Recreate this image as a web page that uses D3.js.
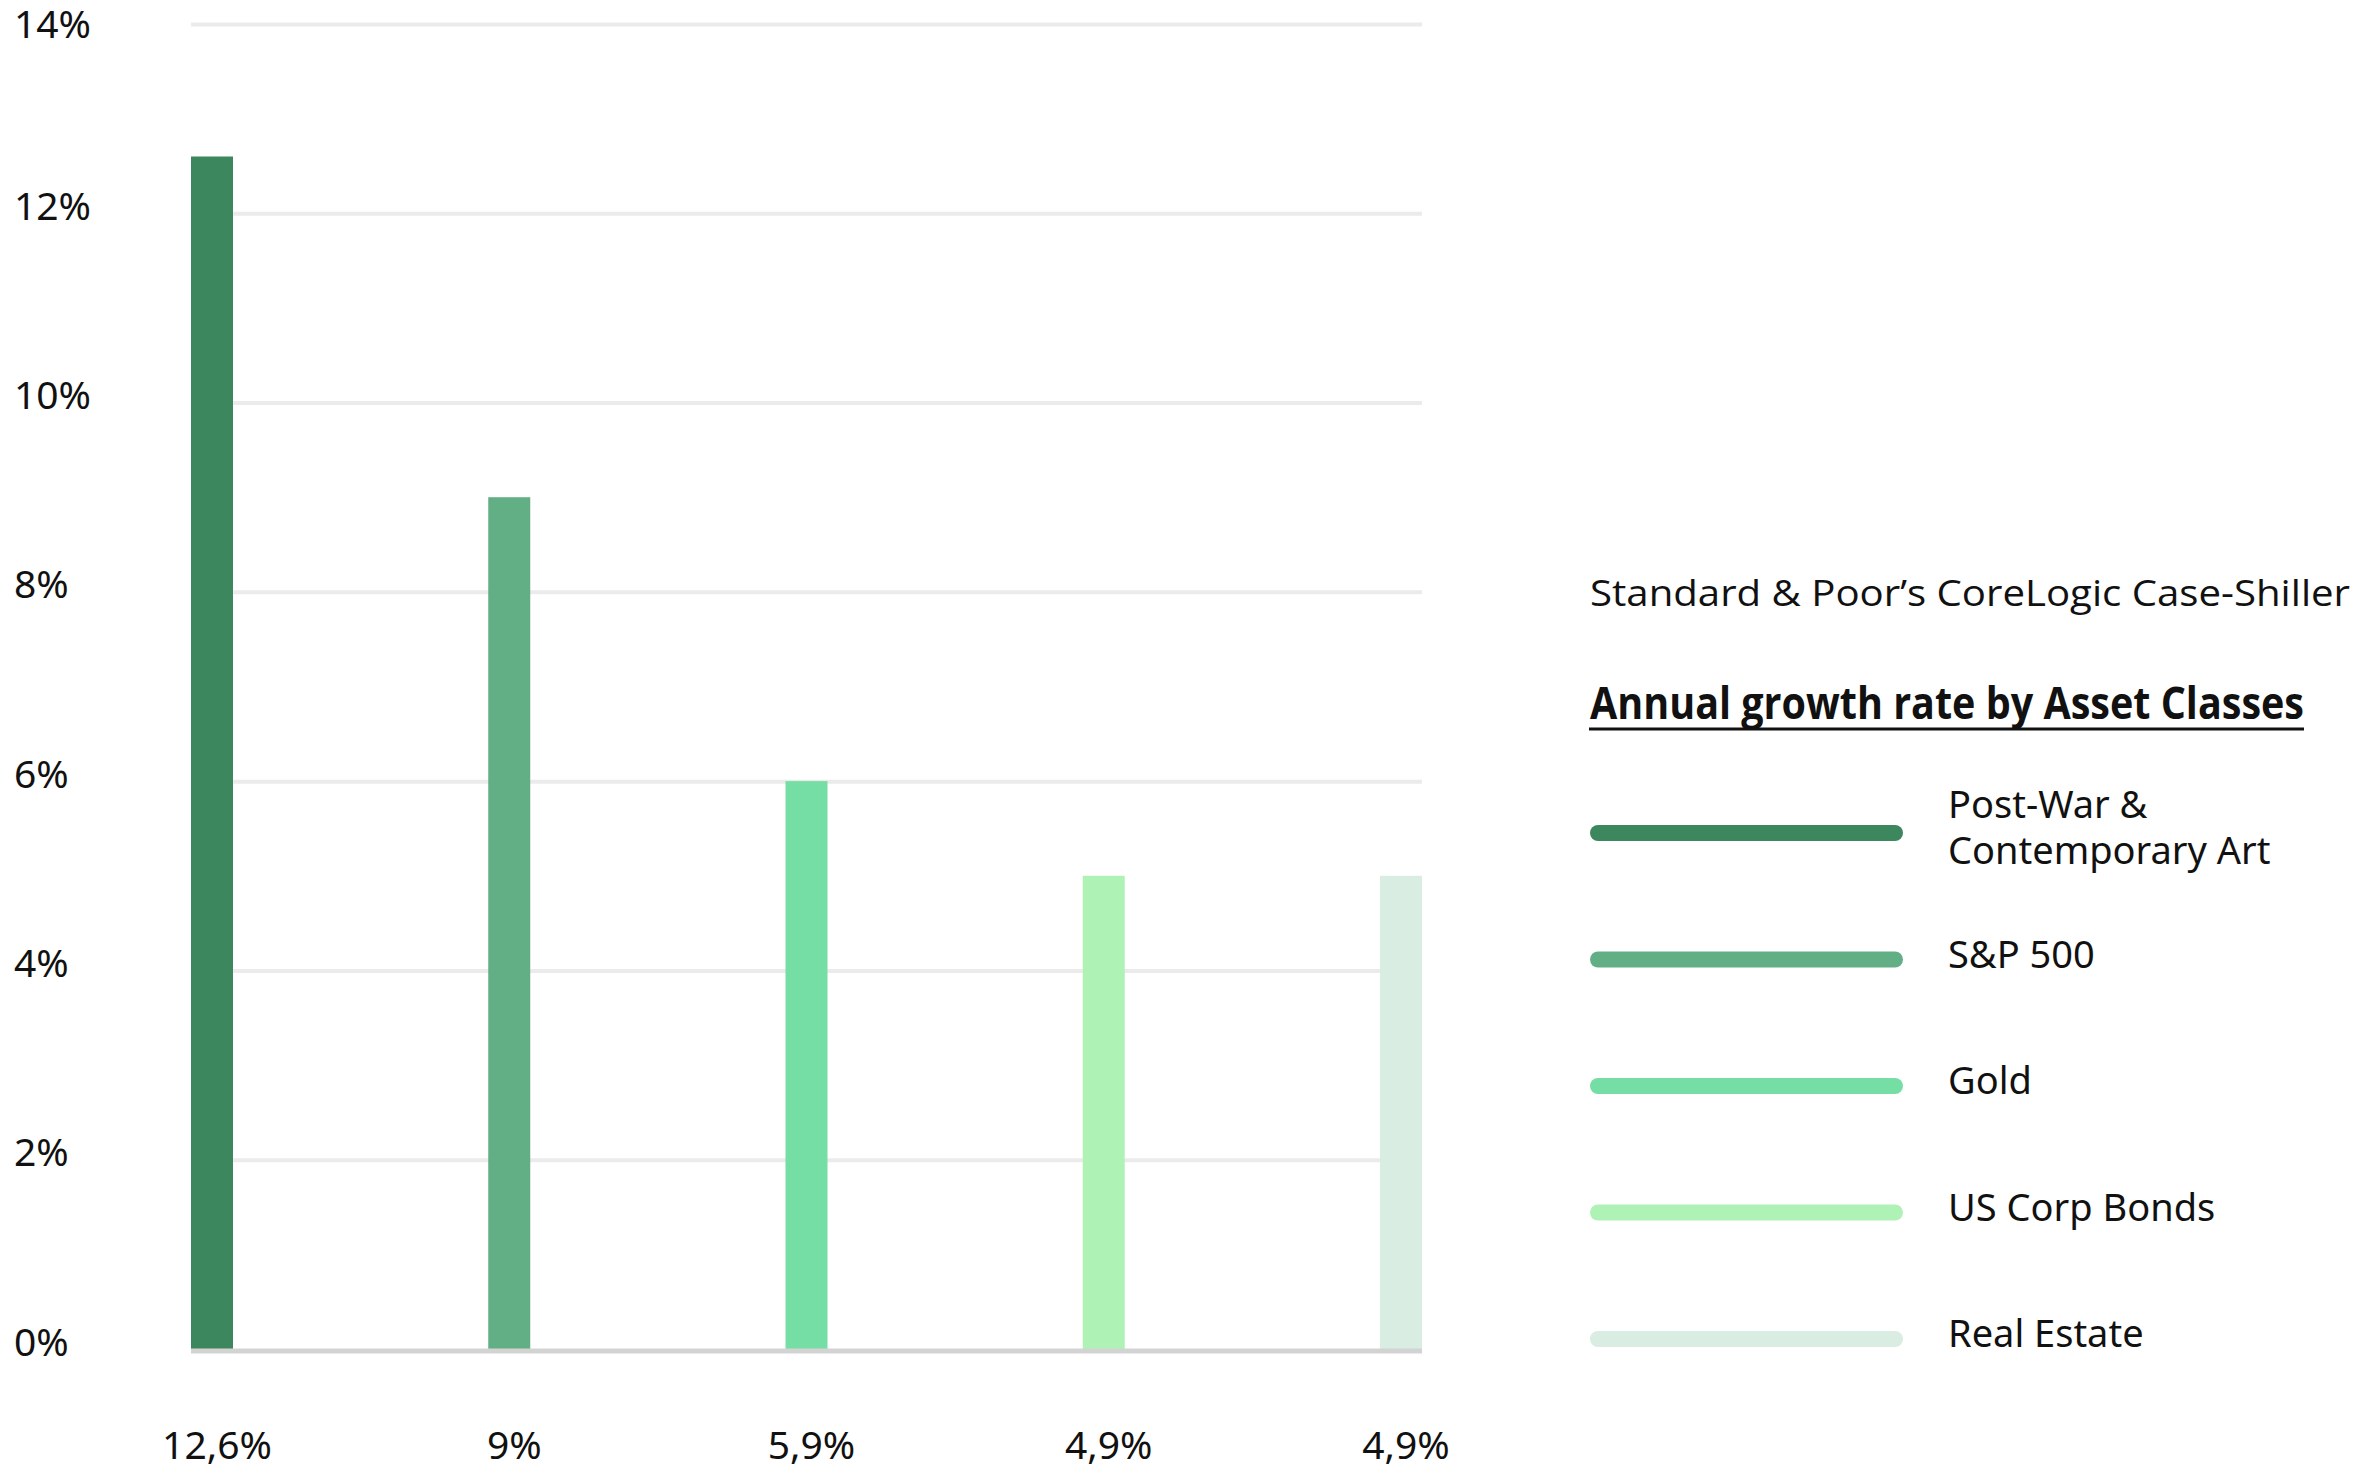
<!DOCTYPE html>
<html>
<head>
<meta charset="utf-8">
<script src="https://cdn.jsdelivr.net/npm/d3@7"></script>
<style>
  body { margin: 0; background: #fff; }
  svg { display: block; }
</style>
</head>
<body>
<div class="vis-barchart"></div>
<script>
// data
const categories = ["Post-War & Contemporary Art", "S&P 500", "Gold", "US Corp Bonds", "Real Estate"];
const legendLines = [["Post-War &", "Contemporary Art"], ["S&P 500"], ["Gold"], ["US Corp Bonds"], ["Real Estate"]];
const values = [12.6, 9, 6, 5, 5];
const valueLabels = ["12,6%", "9%", "5,9%", "4,9%", "4,9%"];
const yTicks = [0, 2, 4, 6, 8, 10, 12, 14];
const colors = ["#3c875d", "#62af85", "#74dea4", "#aff2b5", "#d9ede2"];
const sourceText = "Standard & Poor\u2019s CoreLogic Case-Shiller";
const titleText = "Annual growth rate by Asset Classes";

const W = 2359, H = 1470;
const margin = {top: 24, left: 191, right: 937, bottom: 121};

const svg = d3.select('.vis-barchart').append('svg')
    .attr('width', W)
    .attr('height', H);

// scales
const x = d3.scaleBand()
    .domain(categories)
    .range([margin.left, W - margin.right])
    .paddingInner(0.8587)
    .paddingOuter(0);

const y = d3.scaleLinear()
    .domain([0, 14])
    .range([H - margin.bottom, margin.top]);

// grid lines
svg.append("g")
    .attr("transform", "translate(" + margin.left + ",0)")
    .call(d3.axisLeft(y).tickValues(yTicks.filter(d => d > 0)).tickSize(-(W - margin.right - margin.left)).tickFormat(""))
    .call(g => g.select(".domain").remove())
    .call(g => g.selectAll("line").attr("stroke", "#ebebeb").attr("stroke-width", 4));

// y tick labels
svg.append("g").selectAll("text")
    .data(yTicks)
    .enter()
    .append("text")
    .attr("x", 14)
    .attr("y", d => Math.max(y(d) - 9, 22))
    .attr("dominant-baseline", "central")
    .style("font-family", "'Noto Sans', sans-serif")
    .style("font-size", "39px")
    .style("fill", "#111")
    .text(d => d + "%");

// bars
svg.append("g").selectAll("rect")
    .data(values)
    .enter()
    .append("rect")
    .attr("x", (d, i) => x(categories[i]))
    .attr("y", d => y(d))
    .attr("width", x.bandwidth())
    .attr("height", d => y(0) - y(d))
    .style("fill", (d, i) => colors[i]);

// baseline
svg.append("line")
    .attr("x1", margin.left).attr("x2", W - margin.right)
    .attr("y1", y(0) + 2).attr("y2", y(0) + 2)
    .attr("stroke", "#d3d3d3")
    .attr("stroke-width", 5);

// value labels under the bars
svg.append("g").selectAll("text")
    .data(valueLabels)
    .enter()
    .append("text")
    .attr("x", (d, i) => x(categories[i]) + x.bandwidth() / 2 + 5)
    .attr("y", 1443)
    .attr("text-anchor", "middle")
    .attr("dominant-baseline", "central")
    .style("font-family", "'Noto Sans', sans-serif")
    .style("font-size", "39px")
    .style("fill", "#111")
    .text(d => d);

// legend
const legend = svg.append("g");
const lx = 1590;

legend.append("text")
    .attr("x", lx).attr("y", 606)
    .attr("textLength", 760)
    .attr("lengthAdjust", "spacingAndGlyphs")
    .style("font-family", "'Open Sans', sans-serif")
    .style("font-size", "37px")
    .style("fill", "#111")
    .text(sourceText);

legend.append("text")
    .attr("x", lx).attr("y", 719)
    .attr("textLength", 714)
    .attr("lengthAdjust", "spacingAndGlyphs")
    .style("font-family", "'Liberation Sans Narrow', 'Open Sans', sans-serif")
    .style("font-weight", "bold")
    .style("font-size", "44px")
    .style("fill", "#111")
    .text(titleText);
legend.append("line")
    .attr("x1", lx - 1).attr("x2", lx + 714)
    .attr("y1", 729).attr("y2", 729)
    .attr("stroke", "#111")
    .attr("stroke-width", 3);

const ly = d3.scalePoint()
    .domain(categories)
    .range([833, 1339]);

const items = legend.selectAll("g.item")
    .data(categories)
    .enter()
    .append("g")
    .attr("class", "item");

items.append("line")
    .attr("x1", lx + 8).attr("x2", 1895)
    .attr("y1", d => ly(d)).attr("y2", d => ly(d))
    .attr("stroke", (d, i) => colors[i])
    .attr("stroke-width", 16)
    .attr("stroke-linecap", "round");

// one text per line so wrapped labels stay separate
items.each(function(d, i) {
    const lines = legendLines[i];
    const top = ly(d) - 7 - (lines.length - 1) * 23;
    d3.select(this).selectAll("text")
        .data(lines)
        .enter()
        .append("text")
        .attr("x", 1948)
        .attr("y", (s, k) => top + k * 46)
        .attr("dominant-baseline", "central")
        .style("font-family", "'Noto Sans', sans-serif")
        .style("font-size", "38px")
        .style("fill", "#111")
        .text(s => s);
});
</script>
</body>
</html>
